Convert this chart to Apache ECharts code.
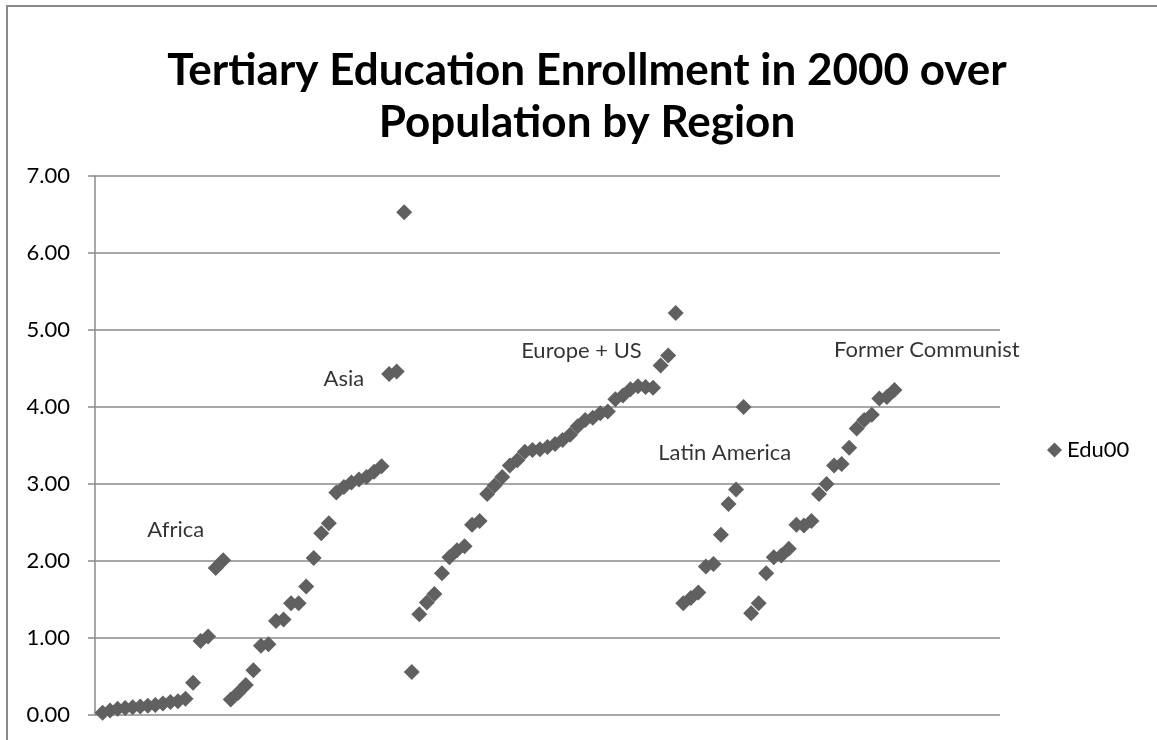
<!DOCTYPE html>
<html>
<head>
<meta charset="utf-8">
<script src="https://cdn.jsdelivr.net/npm/echarts@6/dist/echarts.min.js"></script>
<style>
  html, body { margin: 0; padding: 0; background: #ffffff; }
  #chart { width: 1157px; height: 740px; }
</style>
</head>
<body>
<div id="chart"></div>
<script>
// Tertiary education enrollment (Edu00), ordered by region then value.
const seriesName = 'Edu00';

const africa = [0.03, 0.06, 0.08, 0.09, 0.10, 0.11, 0.12, 0.13, 0.15, 0.17, 0.18, 0.21,
                0.42, 0.96, 1.02, 1.91, 2.01];
const asia = [0.20, 0.29, 0.39, 0.58, 0.90, 0.92, 1.22, 1.24, 1.45, 1.45, 1.67, 2.04,
              2.36, 2.49, 2.89, 2.96, 3.02, 3.06, 3.09, 3.16, 3.23, 4.43, 4.46, 6.53];
const europeUS = [0.56, 1.31, 1.46, 1.57, 1.84, 2.05, 2.14, 2.19, 2.47, 2.52, 2.87, 2.98,
                  3.09, 3.24, 3.31, 3.42, 3.44, 3.45, 3.48, 3.52, 3.57, 3.64, 3.75, 3.83,
                  3.86, 3.92, 3.94, 4.10, 4.15, 4.23, 4.27, 4.26, 4.25, 4.54, 4.67, 5.22];
const latinAmerica = [1.45, 1.52, 1.59, 1.93, 1.96, 2.34, 2.74, 2.93, 4.00];
const formerCommunist = [1.32, 1.45, 1.84, 2.05, 2.07, 2.16, 2.47, 2.46, 2.52, 2.87,
                         3.00, 3.24, 3.26, 3.47, 3.72, 3.83, 3.90, 4.11, 4.13, 4.22];

// Region captions and the [observation index, value] they sit at.
const regionNames = ['Africa', 'Asia', 'Europe + US', 'Latin America', 'Former Communist'];
const regionAnchors = [[10.7, 2.40], [33.0, 4.37], [64.5, 4.73], [83.5, 3.40], [110.3, 4.74]];

const yTicks = [0, 1, 2, 3, 4, 5, 6, 7];

const values = [].concat(africa, asia, europeUS, latinAmerica, formerCommunist);
const points = values.map((v, i) => [i + 1, v]);

const FONT = 'Lato, "Liberation Sans", sans-serif';
const GRID = '#8a8a8a';
const MARK = '#606060';

const chart = echarts.init(document.getElementById('chart'), null, { renderer: 'canvas' });

chart.setOption({
  animation: false,
  backgroundColor: '#ffffff',
  title: {
    text: 'Tertiary Education Enrollment in 2000 over\nPopulation by Region',
    left: 582,
    top: 40,
    textAlign: 'center',
    textStyle: {
      fontFamily: FONT,
      fontWeight: 'bold',
      fontSize: 44,
      lineHeight: 52,
      color: '#000000'
    }
  },
  legend: {
    data: [{ name: seriesName, icon: 'diamond' }],
    left: 1042,
    top: 434,
    itemWidth: 15,
    itemHeight: 15,
    itemGap: 6,
    textStyle: { fontFamily: FONT, fontSize: 22, color: '#000000' }
  },
  grid: { left: 95, right: 157, top: 176, bottom: 25, containLabel: false },
  xAxis: {
    type: 'value',
    min: 0,
    max: 120,
    interval: 20,
    axisLine: { show: false },
    axisTick: { show: false },
    axisLabel: { show: false },
    splitLine: { show: false }
  },
  yAxis: {
    type: 'value',
    min: yTicks[0],
    max: yTicks[yTicks.length - 1],
    interval: 1,
    axisLine: { show: true, lineStyle: { color: GRID, width: 1.5 } },
    axisTick: { show: true, inside: false, length: 7, lineStyle: { color: GRID, width: 1.5 } },
    axisLabel: {
      margin: 25,
      fontFamily: FONT,
      fontSize: 22,
      color: '#000000',
      formatter: v => v.toFixed(2)
    },
    splitLine: { show: true, lineStyle: { color: GRID, width: 1.5 } }
  },
  graphic: [{
    type: 'polyline',
    shape: { points: [[7, 740], [7, 6], [1157, 6]] },
    style: { stroke: '#8a8a8a', lineWidth: 2, fill: null },
    silent: true
  }],
  series: [{
    name: seriesName,
    type: 'scatter',
    data: points,
    symbol: 'diamond',
    symbolSize: 16,
    itemStyle: { color: MARK, opacity: 1 },
    emphasis: { disabled: true }
  }, {
    // Region captions placed in data space; the carrier symbol is invisible.
    name: 'regions',
    type: 'scatter',
    data: regionNames.map((n, i) => ({ name: n, value: regionAnchors[i] })),
    symbol: 'circle',
    symbolSize: 1,
    silent: true,
    itemStyle: { color: 'rgba(0,0,0,0)' },
    label: {
      show: true,
      position: 'inside',
      formatter: p => p.name,
      fontFamily: FONT,
      fontSize: 22,
      color: '#000000'
    },
    emphasis: { disabled: true }
  }]
});
</script>
</body>
</html>
